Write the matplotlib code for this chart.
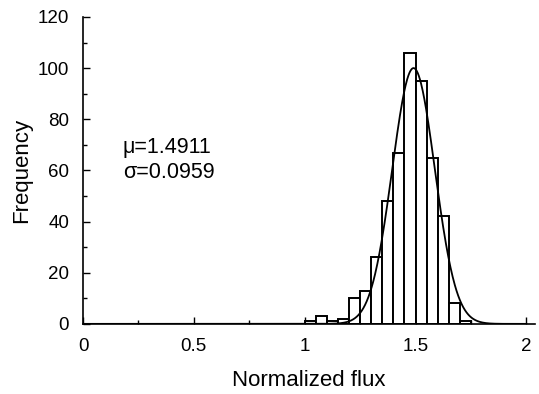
import matplotlib
matplotlib.use('Agg')
import matplotlib.pyplot as plt
import numpy as np
from matplotlib.ticker import MultipleLocator

plt.rcParams['font.family'] = ['Liberation Sans', 'DejaVu Sans']

# histogram bins (left edges) and counts
bin_left = [1.00, 1.05, 1.10, 1.15, 1.20, 1.25, 1.30, 1.35, 1.40,
            1.45, 1.50, 1.55, 1.60, 1.65, 1.70]
counts = [1, 3, 1, 2, 10, 13, 26, 48, 67, 106, 95, 65, 42, 8, 1]
bin_width = 0.05

# fitted normal distribution
mu = 1.4911
sigma = 0.0959
peak = 100

fig = plt.figure(figsize=(5.39, 3.94), dpi=100)
ax = fig.add_axes([0.154, 0.178, 0.839, 0.779])

ax.bar(bin_left, counts, width=bin_width, align='edge',
       facecolor='white', edgecolor='black', linewidth=1.4, zorder=2)

xs = np.linspace(0, 2, 801)
ax.plot(xs, peak * np.exp(-0.5 * ((xs - mu) / sigma) ** 2),
        color='black', linewidth=1.3, zorder=3)

ax.set_xlim(0, 2.04)
ax.set_ylim(0, 120)
ax.xaxis.set_major_locator(MultipleLocator(0.5))
ax.xaxis.set_minor_locator(MultipleLocator(0.25))
ax.yaxis.set_major_locator(MultipleLocator(20))
ax.yaxis.set_minor_locator(MultipleLocator(10))
ax.xaxis.set_ticks([0, 0.5, 1, 1.5, 2])
ax.set_xticklabels(['0', '0.5', '1', '1.5', '2'])
ax.tick_params(which='both', direction='in', width=1, labelsize=13.5)
ax.tick_params(which='major', length=5)
ax.tick_params(axis='x', which='major', pad=10)
ax.tick_params(axis='y', which='major', pad=10)
ax.tick_params(which='minor', length=3)
ax.spines['top'].set_visible(False)
ax.spines['right'].set_visible(False)
ax.spines['left'].set_linewidth(1.2)
ax.spines['bottom'].set_linewidth(1.2)

ax.set_xlabel('Normalized flux', fontsize=16, labelpad=11)
ax.set_ylabel('Frequency', fontsize=16, labelpad=4)

ax.text(0.18, 67, 'μ=1.4911', fontsize=15.5, va='baseline')
ax.text(0.18, 57, 'σ=0.0959', fontsize=15.5, va='baseline')

fig.savefig('out.png', dpi=100)
